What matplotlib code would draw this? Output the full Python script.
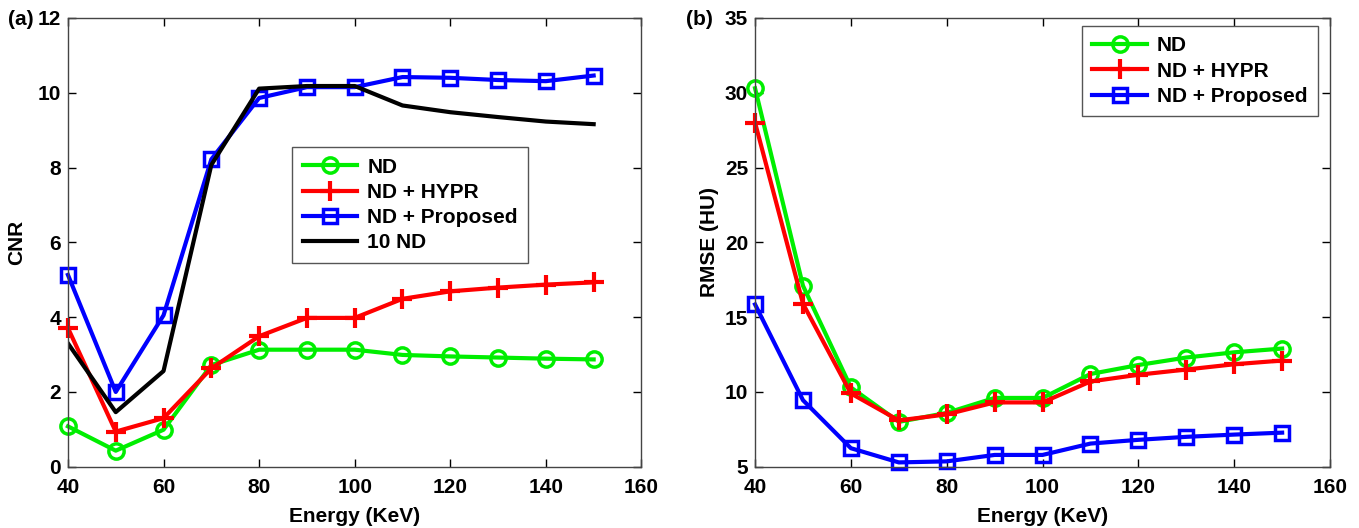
import matplotlib.pyplot as plt

plt.rcParams['font.family'] = ['Liberation Sans', 'DejaVu Sans']
plt.rcParams['font.weight'] = 'bold'

energy = [40, 50, 60, 70, 80, 90, 100, 110, 120, 130, 140, 150]

# (a) CNR
cnr_nd = [1.08, 0.43, 0.99, 2.72, 3.13, 3.13, 3.13, 2.99, 2.95, 2.92, 2.89, 2.87]
cnr_hypr = [3.71, 0.94, 1.30, 2.63, 3.49, 3.98, 3.98, 4.49, 4.69, 4.79, 4.87, 4.93]
cnr_prop = [5.13, 2.00, 4.05, 8.22, 9.86, 10.15, 10.15, 10.42, 10.40, 10.34, 10.31, 10.46]
cnr_10nd = [3.30, 1.46, 2.56, 8.07, 10.11, 10.18, 10.18, 9.66, 9.48, 9.35, 9.23, 9.16]

# (b) RMSE
rmse_nd = [30.3, 17.1, 10.3, 8.0, 8.6, 9.6, 9.6, 11.2, 11.8, 12.3, 12.65, 12.9]
rmse_hypr = [28.0, 15.9, 9.9, 8.1, 8.5, 9.3, 9.3, 10.7, 11.15, 11.5, 11.85, 12.1]
rmse_prop = [15.85, 9.45, 6.24, 5.29, 5.36, 5.79, 5.79, 6.55, 6.8, 7.0, 7.15, 7.28]

fs = 15
lw = 3
ms = 11
mew = 2.5


def style_axes(ax):
    ax.set_xlim(40, 160)
    ax.set_xticks(range(40, 161, 20))
    ax.tick_params(direction='in', top=True, right=True, labelsize=fs,
                   length=6, width=1)
    ax.tick_params(axis='x', pad=8)
    ax.tick_params(axis='y', pad=5)
    for sp in ax.spines.values():
        sp.set_color('#444444')
        sp.set_linewidth(1.0)
    ax.set_xlabel('Energy (KeV)', fontsize=fs, fontweight='bold', labelpad=7)


def draw_series(ax, nd, hypr, prop):
    ax.plot(energy, nd, color='#00ee00', lw=lw, marker='o', ms=ms,
            mfc='none', mew=mew, label='ND', clip_on=False)
    ax.plot(energy, hypr, color='#ff0000', lw=lw, marker='+', ms=ms + 4,
            mew=mew + 0.5, label='ND + HYPR', clip_on=False)
    ax.plot(energy, prop, color='#0000ff', lw=lw, marker='s', ms=ms - 1,
            mfc='none', mew=mew, label='ND + Proposed', clip_on=False)


fig = plt.figure(figsize=(13.59, 5.28), dpi=100)
ax1 = fig.add_axes([0.050, 0.116, 0.422, 0.850])
ax2 = fig.add_axes([0.5556, 0.116, 0.4231, 0.850])

draw_series(ax1, cnr_nd, cnr_hypr, cnr_prop)
ax1.plot(energy, cnr_10nd, color='black', lw=lw, label='10 ND')
ax1.set_ylim(0, 12)
ax1.set_yticks(range(0, 13, 2))
ax1.set_ylabel('CNR', fontsize=fs, fontweight='bold', labelpad=8)
style_axes(ax1)
ax1.legend(loc='upper left', bbox_to_anchor=(0.391, 0.712), borderaxespad=0,
           fancybox=False, edgecolor='#555555', framealpha=1, fontsize=fs,
           handlelength=2.6, labelspacing=0.3, borderpad=0.5, handletextpad=0.5)

draw_series(ax2, rmse_nd, rmse_hypr, rmse_prop)
ax2.set_ylim(5, 35)
ax2.set_yticks(range(5, 36, 5))
ax2.set_ylabel('RMSE (HU)', fontsize=fs, fontweight='bold', labelpad=4)
style_axes(ax2)
ax2.legend(loc='upper right', bbox_to_anchor=(0.979, 0.982), borderaxespad=0,
           fancybox=False, edgecolor='#555555', framealpha=1, fontsize=fs,
           handlelength=2.6, labelspacing=0.3, borderpad=0.5, handletextpad=0.5)

fig.text(0.006, 0.952, '(a)', fontsize=fs, fontweight='bold')
fig.text(0.505, 0.952, '(b)', fontsize=fs, fontweight='bold')

fig.savefig('out.png', dpi=100)
